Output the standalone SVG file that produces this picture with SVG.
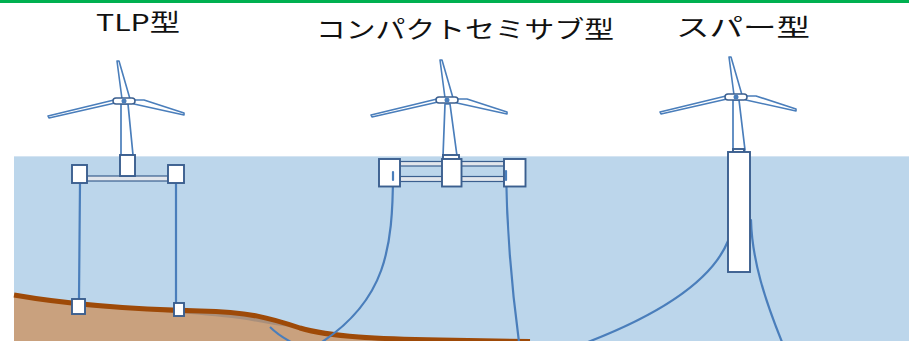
<svg xmlns="http://www.w3.org/2000/svg" xmlns:xlink="http://www.w3.org/1999/xlink" width="909" height="341" viewBox="0 0 909 341">
  <style>
    .title { font-family: "Noto Sans CJK JP", "Noto Sans", sans-serif; font-size: 23.5px; fill: #111; }
    .blade { fill: #ffffff; stroke: #4a7ebb; stroke-width: 1.6; stroke-linejoin: round; }
    .tower { fill: #ffffff; stroke: #4a7ebb; stroke-width: 1.7; stroke-linejoin: round; }
    .float { fill: #ffffff; stroke: #3b5f8f; stroke-width: 1.9; }
    .brace { fill: #e2e6ec; stroke: #3b5f8f; stroke-width: 1.2; }
    .line { fill: none; stroke: #4a7ebb; stroke-width: 2.2; stroke-linecap: round; }
  </style>
  <defs>
    <!-- three-bladed rotor with nacelle, origin at the hub -->
    <g id="rotor">
      <polygon class="blade" points="-7,-40 -5,-40 6,-2 -2,-2"/>
      <polygon class="blade" points="-76,15 -10,-1 -9,2 -75,17"/>
      <polygon class="blade" points="10,-1 20,-1 60,12 60,14 10,3"/>
      <rect x="-11" y="-3" width="22" height="6" rx="3" fill="#ffffff" stroke="#3b5f8f" stroke-width="1.5"/>
      <circle cx="0" cy="0" r="2.5" fill="#4a7ebb"/>
    </g>
  </defs>

  <!-- top rule -->
  <rect x="0" y="0" width="909" height="3" fill="#00b050"/>

  <!-- sea -->
  <rect x="14" y="156" width="895" height="185" fill="#bcd6eb"/>
  <line x1="14" y1="156.5" x2="909" y2="156.5" stroke="#d4e4f2" stroke-width="1"/>

  <!-- seabed -->
  <path d="M14,295 C60,303 120,309 200,311 C250,312 270,318 300,328 C330,337 380,339 440,340 L530,341.5 L530,345 L14,345 Z" fill="#c9a17e"/>
  <path d="M80,305 C140,309 210,311 250,313 C270,316 285,322 292,327 C275,326 260,322 240,319 C200,314 140,310 80,307 Z" fill="#a98f7b"/>
  <path d="M14,295 C60,303 120,309 200,311 C250,312 270,318 300,328 C330,337 380,339 440,340 L530,341.5" fill="none" stroke="#9e4a08" stroke-width="5"/>
  <path d="M270,327 Q278,335 291,342" fill="none" stroke="#4a7ebb" stroke-width="2"/>

  <!-- titles -->
  <text class="title" x="96" y="31" textLength="84" lengthAdjust="spacingAndGlyphs">TLP型</text>
  <text class="title" x="316" y="38" textLength="298" lengthAdjust="spacingAndGlyphs">コンパクトセミサブ型</text>
  <text class="title" x="676" y="36" textLength="134" lengthAdjust="spacingAndGlyphs">スパー型</text>

  <!-- mooring lines and tendons -->
  <g id="connectors">
    <line class="line" x1="80" y1="183" x2="79" y2="299"/>
    <line class="line" x1="176" y1="183" x2="176" y2="303"/>
    <path class="line" d="M393,172 C393,250 385,300 322,342"/>
    <path class="line" d="M506,171 C507,240 512,290 519,342"/>
    <path class="line" d="M751,220 C752,260 765,300 782,342"/>
    <path class="line" d="M728,241 C710,285 650,318 588,342"/>
  </g>

  <!-- tension leg platform -->
  <g id="tlp">
    <polygon class="tower" points="121,104 128,104 133,155 121,155"/>
    <use xlink:href="#rotor" href="#rotor" transform="translate(124,101)"/>
    <rect class="brace" x="87" y="176" width="81" height="5"/>
    <rect class="float" x="120" y="155" width="15" height="21"/>
    <rect class="float" x="72" y="165" width="15" height="18"/>
    <rect class="float" x="168" y="165" width="16" height="18"/>
    <rect class="float" x="72" y="299" width="13" height="15"/>
    <rect class="float" x="174" y="303" width="10" height="13"/>
  </g>

  <!-- compact semi-submersible -->
  <g id="semisub">
    <polygon class="tower" points="445,104 450,104 457,156 443,156"/>
    <use xlink:href="#rotor" href="#rotor" transform="translate(447,100)"/>
    <rect class="float" x="443" y="155" width="16" height="4.5"/>
    <rect class="brace" x="400" y="161.5" width="104" height="4.5"/>
    <rect class="brace" x="400" y="176.5" width="104" height="5"/>
    <rect class="float" x="379" y="159" width="21" height="27.5"/>
    <rect class="float" x="442" y="159" width="19.5" height="27.5"/>
    <rect class="float" x="504" y="159" width="21.5" height="27.5"/>
    <line class="line" x1="393" y1="172" x2="393" y2="180"/>
    <line class="line" x1="506" y1="171" x2="506" y2="180"/>
  </g>

  <!-- spar -->
  <g id="spar">
    <polygon class="tower" points="733,100 739,100 745,150 733,150"/>
    <use xlink:href="#rotor" href="#rotor" transform="translate(736,97)"/>
    <rect class="float" x="733" y="149" width="11" height="3.5"/>
    <rect class="float" x="728" y="152" width="22" height="120"/>
  </g>
</svg>
